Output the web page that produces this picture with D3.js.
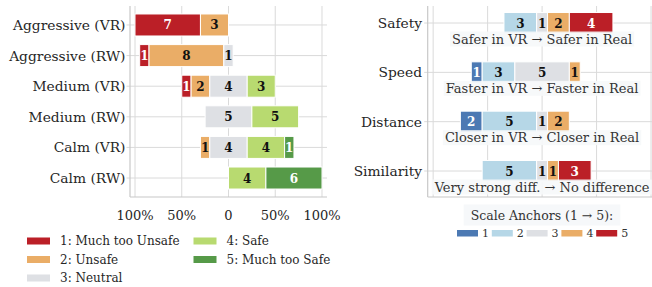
<!DOCTYPE html>
<html>
<head>
<meta charset="utf-8">
<script src="https://cdn.jsdelivr.net/npm/d3@7.9.0/dist/d3.min.js"></script>
<style>
  body { margin: 0; background: #fff; }
  text { font-family: 'DejaVu Serif', serif; }
</style>
</head>
<body>
<svg id="chart" width="652" height="287"></svg>
<script>
// left panel: perceived safety, counts per level (1..5), 10 raters each
const leftCategories = ['Aggressive (VR)', 'Aggressive (RW)', 'Medium (VR)', 'Medium (RW)', 'Calm (VR)', 'Calm (RW)'];
const leftCounts = [
  [7, 3, 0, 0, 0],
  [1, 8, 1, 0, 0],
  [1, 2, 4, 3, 0],
  [0, 0, 5, 5, 0],
  [0, 1, 4, 4, 1],
  [0, 0, 0, 4, 6]
];
const leftLevels = ['1: Much too Unsafe', '2: Unsafe', '3: Neutral', '4: Safe', '5: Much too Safe'];
const leftColors = ['#bb1f27', '#eaad67', '#dee0e4', '#b8da70', '#569a48'];

// right panel: VR vs real comparison
const rightCategories = ['Safety', 'Speed', 'Distance', 'Similarity'];
const rightCounts = [
  [0, 3, 1, 2, 4],
  [1, 3, 5, 1, 0],
  [2, 5, 1, 2, 0],
  [0, 5, 1, 1, 3]
];
const rightNotes = [
  'Safer in VR \u2192 Safer in Real',
  'Faster in VR \u2192 Faster in Real',
  'Closer in VR \u2192 Closer in Real',
  'Very strong diff. \u2192 No difference'
];
const rightLevels = ['1', '2', '3', '4', '5'];
const rightColors = ['#4c79b3', '#b6d7e7', '#dee0e4', '#eaad67', '#bb1f27'];

const xTicks = [-100, -50, 0, 50, 100];
const perCount = 10; // each response = 10%

const svg = d3.select('#chart');
const gridColor = '#dadada';
const spineColor = '#c8c8c8';

// build diverging segments, neutral centred on 0
function segments(counts) {
  let x = -(counts[0] + counts[1] + counts[2] / 2) * perCount;
  return counts.map((c, i) => {
    const s = { level: i, count: c, x0: x, x1: x + c * perCount };
    x += c * perCount;
    return s;
  }).filter(d => d.count > 0);
}

function drawPanel(opts) {
  const { x, y, cats, counts, colors, barH, labelX, whiteText } = opts;
  const g = svg.append('g');

  // grid
  g.append('g').selectAll('line.v').data(xTicks).join('line')
    .attr('x1', d => x(d)).attr('x2', d => x(d))
    .attr('y1', y.range()[0]).attr('y2', y.range()[1])
    .attr('stroke', gridColor).attr('stroke-width', 1);
  g.append('g').selectAll('line.h').data(cats).join('line')
    .attr('x1', x.range()[0] - 3.5).attr('x2', x.range()[1])
    .attr('y1', (d, i) => y(i)).attr('y2', (d, i) => y(i))
    .attr('stroke', gridColor).attr('stroke-width', 1);

  // spines
  g.append('line')
    .attr('x1', x.range()[0]).attr('x2', x.range()[0])
    .attr('y1', y.range()[0]).attr('y2', y.range()[1])
    .attr('stroke', spineColor).attr('stroke-width', 1.2);
  g.append('line')
    .attr('x1', x.range()[0]).attr('x2', x.range()[1])
    .attr('y1', y.range()[1]).attr('y2', y.range()[1])
    .attr('stroke', spineColor).attr('stroke-width', 1.2);

  // category labels
  g.append('g').selectAll('text').data(cats).join('text')
    .attr('x', labelX).attr('y', (d, i) => y(i))
    .attr('text-anchor', 'end').attr('dominant-baseline', 'central')
    .attr('font-size', 13.8).attr('fill', '#262626')
    .text(d => d);

  // bars
  counts.forEach((row, i) => {
    const segs = segments(row);
    const rg = g.append('g');
    rg.selectAll('rect').data(segs).join('rect')
      .attr('x', d => x(d.x0)).attr('width', d => x(d.x1) - x(d.x0))
      .attr('y', y(i) - barH / 2).attr('height', barH)
      .attr('fill', d => colors[d.level])
      .attr('stroke', '#fff').attr('stroke-width', 1);
    rg.selectAll('text').data(segs).join('text')
      .attr('x', d => (x(d.x0) + x(d.x1)) / 2).attr('y', y(i) + 0.5)
      .attr('text-anchor', 'middle').attr('dominant-baseline', 'central')
      .attr('font-size', 12).attr('font-weight', 'bold')
      .attr('fill', d => whiteText.includes(d.level) ? '#fff' : '#111')
      .text(d => d.count);
  });
  return g;
}

// ---- left panel
const xL = d3.scaleLinear().domain([-105.35, 105.35]).range([130, 327]);
const yL = d3.scaleLinear().domain([-0.62, 5.62]).range([6, 197]);
const gL = drawPanel({
  x: xL, y: yL, cats: leftCategories, counts: leftCounts, colors: leftColors,
  barH: 22, labelX: 125.5, whiteText: [0, 4]
});

gL.append('g').selectAll('text').data(xTicks).join('text')
  .attr('x', d => xL(d)).attr('y', 215)
  .attr('text-anchor', 'middle').attr('dominant-baseline', 'central')
  .attr('font-size', 13).attr('fill', '#262626')
  .text(d => d === 0 ? '0' : Math.abs(d) + '%');

// left legend (column-major, 3 rows)
const legL = svg.append('g');
leftLevels.forEach((lab, i) => {
  const col = Math.floor(i / 3), row = i % 3;
  const lx = 27 + col * 166.5, ly = 241 + row * 18.5;
  legL.append('rect').attr('x', lx).attr('y', ly - 3.5).attr('width', 23).attr('height', 7)
    .attr('fill', leftColors[i]);
  legL.append('text').attr('x', lx + 33).attr('y', ly)
    .attr('dominant-baseline', 'central').attr('font-size', 12).attr('fill', '#262626')
    .text(lab);
});

// ---- right panel
const xR = d3.scaleLinear().domain([-105, 105]).range([427.7, 656.5]);
const yR = d3.scaleLinear().domain([-0.345, 3.527]).range([6, 197]);
const gR = drawPanel({
  x: xR, y: yR, cats: rightCategories, counts: rightCounts, colors: rightColors,
  barH: 21, labelX: 422, whiteText: [0, 4]
});

// annotation under each bar
rightNotes.forEach((note, i) => {
  const ng = gR.append('g');
  const t = ng.append('text')
    .attr('x', xR(0)).attr('y', yR(i) + 16)
    .attr('text-anchor', 'middle').attr('dominant-baseline', 'central')
    .attr('font-size', 13).attr('fill', '#333')
    .text(note);
  const bb = t.node().getBBox();
  ng.insert('rect', 'text')
    .attr('x', bb.x - 2).attr('y', bb.y)
    .attr('width', bb.width + 4).attr('height', bb.height)
    .attr('fill', '#f6f8fa').attr('opacity', 0.9);
});

// right legend
const legR = svg.append('g');
const title = legR.append('text')
  .attr('x', 542).attr('y', 215)
  .attr('text-anchor', 'middle').attr('dominant-baseline', 'central')
  .attr('font-size', 12.5).attr('fill', '#333')
  .text('Scale Anchors (1 \u2192 5):');
const tb = title.node().getBBox();
legR.insert('rect', 'text')
  .attr('x', tb.x - 7).attr('y', tb.y - 3)
  .attr('width', tb.width + 14).attr('height', tb.height + 6)
  .attr('fill', '#f6f8fa');
rightLevels.forEach((lab, i) => {
  const lx = 457 + i * 34.8;
  legR.append('rect').attr('x', lx).attr('y', 230).attr('width', 21).attr('height', 6.5)
    .attr('fill', rightColors[i]);
  legR.append('text').attr('x', lx + 25).attr('y', 233.5)
    .attr('dominant-baseline', 'central').attr('font-size', 11).attr('fill', '#333')
    .text(lab);
});
</script>
</body>
</html>
